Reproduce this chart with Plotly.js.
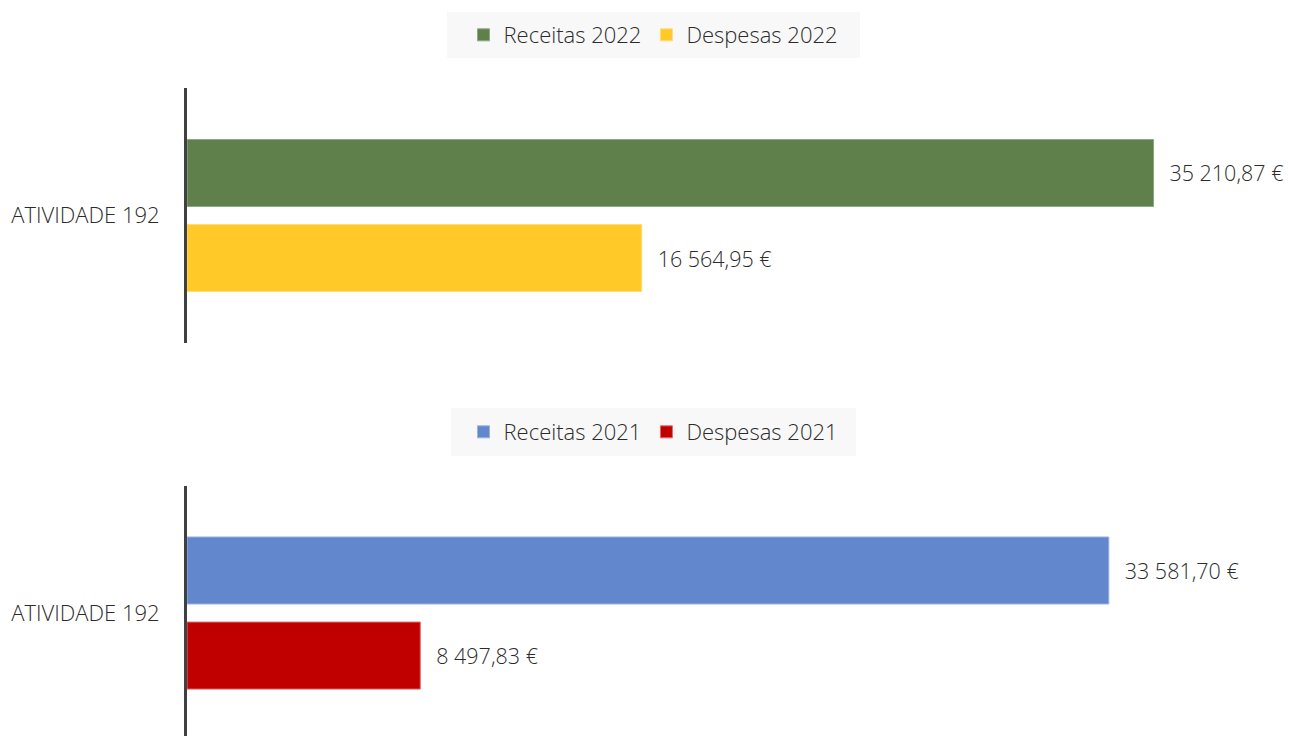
<!DOCTYPE html>
<html>
<head>
<meta charset="utf-8">
<script src="https://cdn.plot.ly/plotly-3.0.1.min.js"></script>
<style>html,body{margin:0;padding:0;background:#fff;}#chart{width:1289px;height:736px;}</style>
</head>
<body>
<div id="chart"></div>
<script>
const categories = ['ATIVIDADE 192'];
const receitas2022 = [35210.87];
const despesas2022 = [16564.95];
const receitas2021 = [33581.70];
const despesas2021 = [8497.83];
const seriesNames2022 = ['Receitas 2022', 'Despesas 2022'];
const seriesNames2021 = ['Receitas 2021', 'Despesas 2021'];

const FONT = 'Open Sans, Lato, sans-serif';
const TXT = '#2b2b2b';

function bar(name, vals, color, lineColor, xa, ya, lg) {
  return {
    type: 'bar', orientation: 'h', name: name,
    x: vals, y: categories, xaxis: xa, yaxis: ya, legend: lg,
    marker: {color: color, line: {color: lineColor, width: 1}},
    texttemplate: '\u2002\u200A%{x:,.2f} €', textposition: 'outside', cliponaxis: false,
    textfont: {family: FONT, size: 21.5, color: TXT, weight: 300},
    hoverinfo: 'skip'
  };
}

const data = [
  bar(seriesNames2022[0], receitas2022, '#5f7f4b', '#8fa882', 'x', 'y', 'legend'),
  bar(seriesNames2022[1], despesas2022, '#ffc928', '#ffdb7a', 'x', 'y', 'legend'),
  bar(seriesNames2021[0], receitas2021, '#6287cc', '#9ab3e0', 'x2', 'y2', 'legend2'),
  bar(seriesNames2021[1], despesas2021, '#c00000', '#e06a6a', 'x2', 'y2', 'legend2')
];

const xBase = {range: [0, 40000], domain: [0.1451, 0.9969], showgrid: false, zeroline: false,
  showticklabels: false, showline: false, ticks: '', fixedrange: true};
const yBase = {type: 'category', showgrid: false, zeroline: false, showline: true,
  linecolor: '#404040', linewidth: 3, ticks: '', ticklabelstandoff: 20,
  tickfont: {family: FONT, size: 22, color: TXT, weight: 300}};

const legBase = {orientation: 'h', xanchor: 'center', yanchor: 'middle', bgcolor: 'rgba(0,0,0,0)',
  font: {family: FONT, size: 22, color: TXT, weight: 300}, itemclick: false, itemdoubleclick: false};

const layout = {
  width: 1289, height: 736,
  margin: {l: 0, r: 0, t: 0, b: 0},
  paper_bgcolor: '#ffffff', plot_bgcolor: '#ffffff',
  separators: ', ',
  barmode: 'group', bargap: 0.333, bargroupgap: 0.212,
  showlegend: true,
  xaxis: Object.assign({}, xBase, {anchor: 'y'}),
  yaxis: Object.assign({}, yBase, {domain: [0.534, 0.8804], range: [0.5, -0.5], anchor: 'x'}),
  xaxis2: Object.assign({}, xBase, {anchor: 'y2'}),
  yaxis2: Object.assign({}, yBase, {domain: [0, 0.3397], range: [0.482, -0.498], anchor: 'x2'}),
  legend: Object.assign({}, legBase, {x: 0.507, y: 0.9524}),
  legend2: Object.assign({}, legBase, {x: 0.507, y: 0.413}),
  shapes: [
    {type: 'rect', xref: 'paper', yref: 'paper', x0: 0.3468, x1: 0.6672, y0: 0.9212, y1: 0.9837,
      fillcolor: '#f8f8f8', line: {width: 0}, layer: 'below'},
    {type: 'rect', xref: 'paper', yref: 'paper', x0: 0.3499, x1: 0.6641, y0: 0.3804, y1: 0.4457,
      fillcolor: '#f8f8f8', line: {width: 0}, layer: 'below'}
  ]
};

Plotly.newPlot('chart', data, layout, {displayModeBar: false, staticPlot: true});
</script>
</body>
</html>
